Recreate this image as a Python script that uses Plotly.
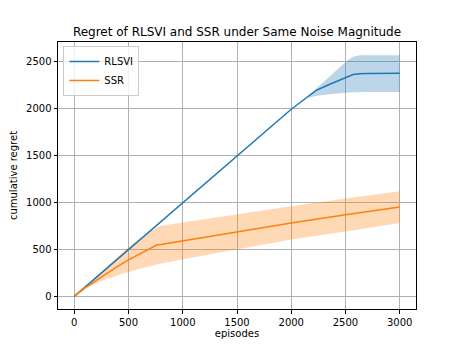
import plotly.graph_objects as go

# episodes at which values were read
rlsvi_x = [0, 1000, 2000, 2140, 2230, 2350, 2450, 2520, 2570, 2630, 2700, 3000]
rlsvi_mean = [0, 1000, 1990, 2112, 2190, 2253, 2300, 2335, 2359, 2367, 2370, 2372]
rlsvi_upper = [0, 1000, 1990, 2115, 2206, 2333, 2438, 2512, 2548, 2563, 2563, 2563]
rlsvi_lower = [0, 1000, 1990, 2110, 2130, 2148, 2162, 2167, 2170, 2172, 2172, 2172]

ssr_x = [0, 100, 200, 300, 400, 500, 600, 700, 760, 800, 1000, 1500, 2000, 2500, 3000]
ssr_mean = [0, 90, 168, 245, 318, 388, 450, 510, 545, 552, 591, 690, 780, 868, 950]
ssr_upper = [0, 100, 205, 315, 420, 525, 610, 690, 735, 750, 785, 875, 957, 1040, 1117]
ssr_lower = [0, 80, 135, 185, 225, 262, 292, 320, 342, 350, 395, 500, 603, 690, 780]

x_ticks = [0, 500, 1000, 1500, 2000, 2500, 3000]
y_ticks = [0, 500, 1000, 1500, 2000, 2500]

BLUE = '#1f77b4'
ORANGE = '#ff7f0e'

# the page body has an 8px margin, so the figure is drawn 8px smaller
W, H = 455, 339


def band(x, lower, upper, fill):
    return [
        go.Scatter(x=x, y=lower, mode='lines', line=dict(width=0), showlegend=False, hoverinfo='skip'),
        go.Scatter(x=x, y=upper, mode='lines', line=dict(width=0), fill='tonexty',
                   fillcolor=fill, showlegend=False, hoverinfo='skip'),
    ]


data = []
data += band(rlsvi_x, rlsvi_lower, rlsvi_upper, 'rgba(31,119,180,0.3)')
data += band(ssr_x, ssr_lower, ssr_upper, 'rgba(255,127,14,0.3)')
data.append(go.Scatter(x=rlsvi_x, y=rlsvi_mean, mode='lines', name='RLSVI', line=dict(color=BLUE, width=1.5)))
data.append(go.Scatter(x=ssr_x, y=ssr_mean, mode='lines', name='SSR', line=dict(color=ORANGE, width=1.5)))

fig = go.Figure(data=data)

axis_style = dict(showline=True, mirror=True, linecolor='black', linewidth=1,
                  ticks='outside', ticklen=3.5, tickcolor='black', automargin=False,
                  showgrid=True, gridcolor='#b0b0b0', gridwidth=0.8, zeroline=False,
                  tickfont=dict(size=10, color='black'))

fig.update_layout(
    width=W, height=H,
    template='none',
    paper_bgcolor='white', plot_bgcolor='white',
    font=dict(family='DejaVu Sans', color='black'),
    margin=dict(l=50, r=47, t=34, b=38, autoexpand=False),
    title=dict(text='Regret of RLSVI and SSR under Same Noise Magnitude', x=(50 + (W - 97) / 2) / W,
               xanchor='center', y=1 - 24 / H, yanchor='middle', font=dict(size=12)),
    legend=dict(x=0.015, y=0.985, xanchor='left', yanchor='top', bgcolor='rgba(255,255,255,0.8)',
                bordercolor='#cccccc', borderwidth=1, font=dict(size=10), traceorder='normal'),
    showlegend=True,
)
fig.update_xaxes(range=[-150, 3150], tickvals=x_ticks, title=dict(text='episodes', font=dict(size=10), standoff=2),
                 **axis_style)
fig.update_yaxes(range=[-135, 2705], tickvals=y_ticks, title=dict(text='cumulative regret', font=dict(size=10), standoff=6),
                 **axis_style)

fig.write_html('out.html')
